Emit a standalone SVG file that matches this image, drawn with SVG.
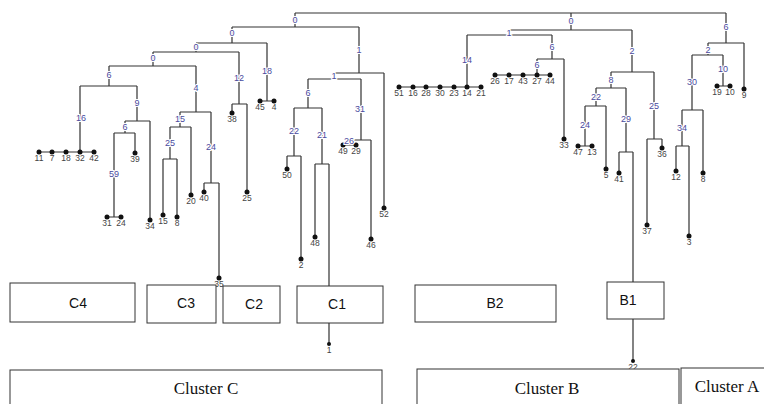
<svg xmlns="http://www.w3.org/2000/svg" width="764" height="404" viewBox="0 0 764 404">
<style>
.ln{fill:none;stroke:#333;stroke-width:1.2}
.dot{fill:#111}
.lf{font-family:"Liberation Sans",Arial,sans-serif;font-size:8.5px;fill:#444;text-anchor:middle}
.in{font-family:"Liberation Sans",Arial,sans-serif;font-size:9px;fill:#4a4a9e;text-anchor:middle;stroke:#fff;stroke-width:2.2;paint-order:stroke}
.box{fill:#fff;stroke:#333;stroke-width:1}
.bl{font-family:"Liberation Sans",Arial,sans-serif;font-size:14px;fill:#111;text-anchor:middle}
.cl{font-family:"Liberation Serif","Times New Roman",serif;font-size:17px;fill:#111;text-anchor:middle}
</style>
<rect width="764" height="404" fill="#fff"/>
<g id="connectors" class="ln">
<path d="M295,13H726M295,13V27M232,27H359M232,27V43M196,43H267M267,43V101M260,101H274M196,43V52M153,52H239M239,52V104M232,104H247M232,104V113M247,104V192M153,52V66M109,66H196M109,66V86M80,86H137M80,86V152M39,152H94M137,86V121M125,121H150M125,121V133M114,133H135M114,133V217M107,217H121M135,133V153M150,121V220M196,66V112M180,112H211M180,112V127M170,127H191M170,127V159M163,159H177M163,159V215M177,159V217M191,127V195M211,112V183M204,183H219M204,183V192M219,183V278"/>
<path d="M359,27V73M334,73H384M384,73V208M334,73V79M308,79H361M308,79V108M294,108H322M294,108V156M287,156H301M287,156V169M301,156V259M322,108V164M315,164H329M315,164V237M329,164V344M361,79V140M349,140H371M371,140V239M349,140V145M343,145H356"/>
<path d="M571,13V30M509,30H632M509,30V35M467,35H552M467,35V87M399,87H481M552,35V59M537,59H564M537,59V75M495,75H550M564,59V139M632,30V72M611,72H654M611,72V88M596,88H626M596,88V106M585,106H606M585,106V146M578,146H592M606,106V169M626,88V152M619,152H633M619,152V173M633,152V361M654,72V139M647,139H662M647,139V225M662,139V148"/>
<path d="M726,13V43M708,43H744M744,43V89M708,43V55M692,55H723M723,55V86M717,86H730M692,55V110M682,110H703M682,110V146M676,146H689M676,146V171M689,146V236M703,110V173"/>
</g>
<g id="leaves">
<g id="leaf-11"><circle class="dot" cx="39" cy="152" r="2.5"/><text class="lf" x="39" y="161">11</text></g>
<g id="leaf-7"><circle class="dot" cx="52" cy="152" r="2.5"/><text class="lf" x="52" y="161">7</text></g>
<g id="leaf-18"><circle class="dot" cx="66" cy="152" r="2.5"/><text class="lf" x="66" y="161">18</text></g>
<g id="leaf-32"><circle class="dot" cx="80" cy="152" r="2.5"/><text class="lf" x="80" y="161">32</text></g>
<g id="leaf-42"><circle class="dot" cx="94" cy="152" r="2.5"/><text class="lf" x="94" y="161">42</text></g>
<g id="leaf-31"><circle class="dot" cx="107" cy="217" r="2.5"/><text class="lf" x="107" y="226">31</text></g>
<g id="leaf-24a"><circle class="dot" cx="121" cy="217" r="2.5"/><text class="lf" x="121" y="226">24</text></g>
<g id="leaf-39"><circle class="dot" cx="135" cy="153" r="2.5"/><text class="lf" x="135" y="162">39</text></g>
<g id="leaf-34"><circle class="dot" cx="150" cy="220" r="2.5"/><text class="lf" x="150" y="229">34</text></g>
<g id="leaf-15"><circle class="dot" cx="163" cy="215" r="2.5"/><text class="lf" x="163" y="224">15</text></g>
<g id="leaf-8a"><circle class="dot" cx="177" cy="217" r="2.5"/><text class="lf" x="177" y="226">8</text></g>
<g id="leaf-20"><circle class="dot" cx="191" cy="195" r="2.5"/><text class="lf" x="191" y="204">20</text></g>
<g id="leaf-40"><circle class="dot" cx="204" cy="192" r="2.5"/><text class="lf" x="204" y="201">40</text></g>
<g id="leaf-35"><circle class="dot" cx="219" cy="278" r="2.5"/><text class="lf" x="219" y="287" font-size="7">35</text></g>
<g id="leaf-38"><circle class="dot" cx="232" cy="113" r="2.5"/><text class="lf" x="232" y="122">38</text></g>
<g id="leaf-25"><circle class="dot" cx="247" cy="192" r="2.5"/><text class="lf" x="247" y="201">25</text></g>
<g id="leaf-45"><circle class="dot" cx="260" cy="101" r="2.5"/><text class="lf" x="260" y="110">45</text></g>
<g id="leaf-4"><circle class="dot" cx="274" cy="101" r="2.5"/><text class="lf" x="274" y="110">4</text></g>
<g id="leaf-50"><circle class="dot" cx="287" cy="169" r="2.5"/><text class="lf" x="287" y="178">50</text></g>
<g id="leaf-2"><circle class="dot" cx="301" cy="259" r="2.5"/><text class="lf" x="301" y="268">2</text></g>
<g id="leaf-48"><circle class="dot" cx="315" cy="237" r="2.5"/><text class="lf" x="315" y="246">48</text></g>
<g id="leaf-1"><circle class="dot" cx="329" cy="344" r="2"/><text class="lf" x="329" y="353" font-size="7">1</text></g>
<g id="leaf-49"><circle class="dot" cx="343" cy="145" r="2.5"/><text class="lf" x="343" y="154">49</text></g>
<g id="leaf-29"><circle class="dot" cx="356" cy="145" r="2.5"/><text class="lf" x="356" y="154">29</text></g>
<g id="leaf-46"><circle class="dot" cx="371" cy="239" r="2.5"/><text class="lf" x="371" y="248">46</text></g>
<g id="leaf-52"><circle class="dot" cx="384" cy="208" r="2.5"/><text class="lf" x="384" y="217">52</text></g>
<g id="leaf-51"><circle class="dot" cx="399" cy="87" r="2.5"/><text class="lf" x="399" y="96">51</text></g>
<g id="leaf-16"><circle class="dot" cx="413" cy="87" r="2.5"/><text class="lf" x="413" y="96">16</text></g>
<g id="leaf-28"><circle class="dot" cx="426" cy="87" r="2.5"/><text class="lf" x="426" y="96">28</text></g>
<g id="leaf-30"><circle class="dot" cx="440" cy="87" r="2.5"/><text class="lf" x="440" y="96">30</text></g>
<g id="leaf-23"><circle class="dot" cx="454" cy="87" r="2.5"/><text class="lf" x="454" y="96">23</text></g>
<g id="leaf-14"><circle class="dot" cx="467" cy="87" r="2.5"/><text class="lf" x="467" y="96">14</text></g>
<g id="leaf-21"><circle class="dot" cx="481" cy="87" r="2.5"/><text class="lf" x="481" y="96">21</text></g>
<g id="leaf-26"><circle class="dot" cx="495" cy="75" r="2.5"/><text class="lf" x="495" y="84">26</text></g>
<g id="leaf-17"><circle class="dot" cx="509" cy="75" r="2.5"/><text class="lf" x="509" y="84">17</text></g>
<g id="leaf-43"><circle class="dot" cx="523" cy="75" r="2.5"/><text class="lf" x="523" y="84">43</text></g>
<g id="leaf-27"><circle class="dot" cx="537" cy="75" r="2.5"/><text class="lf" x="537" y="84">27</text></g>
<g id="leaf-44"><circle class="dot" cx="550" cy="75" r="2.5"/><text class="lf" x="550" y="84">44</text></g>
<g id="leaf-33"><circle class="dot" cx="564" cy="139" r="2.5"/><text class="lf" x="564" y="148">33</text></g>
<g id="leaf-47"><circle class="dot" cx="578" cy="146" r="2.5"/><text class="lf" x="578" y="155">47</text></g>
<g id="leaf-13"><circle class="dot" cx="592" cy="146" r="2.5"/><text class="lf" x="592" y="155">13</text></g>
<g id="leaf-5"><circle class="dot" cx="606" cy="169" r="2.5"/><text class="lf" x="606" y="178">5</text></g>
<g id="leaf-41"><circle class="dot" cx="619" cy="173" r="2.5"/><text class="lf" x="619" y="182">41</text></g>
<g id="leaf-22"><circle class="dot" cx="633" cy="361" r="2"/><text class="lf" x="633" y="370" font-size="7">22</text></g>
<g id="leaf-37"><circle class="dot" cx="647" cy="225" r="2.5"/><text class="lf" x="647" y="234">37</text></g>
<g id="leaf-36"><circle class="dot" cx="662" cy="148" r="2.5"/><text class="lf" x="662" y="157">36</text></g>
<g id="leaf-12"><circle class="dot" cx="676" cy="171" r="2.5"/><text class="lf" x="676" y="180">12</text></g>
<g id="leaf-3"><circle class="dot" cx="689" cy="236" r="2.5"/><text class="lf" x="689" y="245">3</text></g>
<g id="leaf-8b"><circle class="dot" cx="703" cy="173" r="2.5"/><text class="lf" x="703" y="182">8</text></g>
<g id="leaf-19"><circle class="dot" cx="717" cy="86" r="2.5"/><text class="lf" x="717" y="95">19</text></g>
<g id="leaf-10"><circle class="dot" cx="730" cy="86" r="2.5"/><text class="lf" x="730" y="95">10</text></g>
<g id="leaf-9"><circle class="dot" cx="744" cy="89" r="2.5"/><text class="lf" x="744" y="98">9</text></g>
</g>
<g id="internal-labels">
<text class="in" x="295" y="23">0</text>
<text class="in" x="232" y="36">0</text>
<text class="in" x="196" y="50">0</text>
<text class="in" x="153" y="61">0</text>
<text class="in" x="109" y="78">6</text>
<text class="in" x="81" y="121">16</text>
<text class="in" x="137" y="106">9</text>
<text class="in" x="125" y="130">6</text>
<text class="in" x="114" y="177">59</text>
<text class="in" x="196" y="91">4</text>
<text class="in" x="180" y="122">15</text>
<text class="in" x="170" y="146">25</text>
<text class="in" x="211" y="150">24</text>
<text class="in" x="239" y="81">12</text>
<text class="in" x="267" y="74">18</text>
<text class="in" x="359" y="53">1</text>
<text class="in" x="334" y="79">1</text>
<text class="in" x="308" y="96">6</text>
<text class="in" x="294" y="134">22</text>
<text class="in" x="322" y="138">21</text>
<text class="in" x="360" y="112">31</text>
<text class="in" x="349" y="144">26</text>
<text class="in" x="571" y="24">0</text>
<text class="in" x="509" y="36">1</text>
<text class="in" x="467" y="63">14</text>
<text class="in" x="552" y="50">6</text>
<text class="in" x="537" y="68">6</text>
<text class="in" x="632" y="54">2</text>
<text class="in" x="611" y="83">8</text>
<text class="in" x="596" y="100">22</text>
<text class="in" x="585" y="128">24</text>
<text class="in" x="626" y="122">29</text>
<text class="in" x="654" y="109">25</text>
<text class="in" x="726" y="30">6</text>
<text class="in" x="708" y="53">2</text>
<text class="in" x="723" y="72">10</text>
<text class="in" x="692" y="85">30</text>
<text class="in" x="682" y="131">34</text>
</g>
<g id="box-C4"><rect class="box" x="10" y="283" width="125" height="39"/><text class="bl" x="78" y="308">C4</text></g>
<g id="box-C3"><rect class="box" x="147" y="285" width="69" height="38"/><text class="bl" x="186" y="308">C3</text></g>
<g id="box-C2"><rect class="box" x="223" y="286" width="57" height="37"/><text class="bl" x="254" y="309">C2</text></g>
<g id="box-C1"><rect class="box" x="297" y="286" width="86" height="37"/><text class="bl" x="337" y="309">C1</text></g>
<g id="box-B2"><rect class="box" x="415" y="285" width="141" height="37"/><text class="bl" x="495" y="308">B2</text></g>
<g id="box-B1"><rect class="box" x="607" y="282" width="57" height="37"/><text class="bl" x="628" y="305">B1</text></g>
<g id="box-cluster-C"><rect class="box" x="10" y="370" width="372" height="40"/><text class="cl" x="206" y="394">Cluster C</text></g>
<g id="box-cluster-B"><rect class="box" x="417" y="369" width="262" height="41"/><text class="cl" x="547" y="394">Cluster B</text></g>
<g id="box-cluster-A"><rect class="box" x="681" y="368" width="90" height="42"/><text class="cl" x="727" y="392">Cluster A</text></g>
</svg>
